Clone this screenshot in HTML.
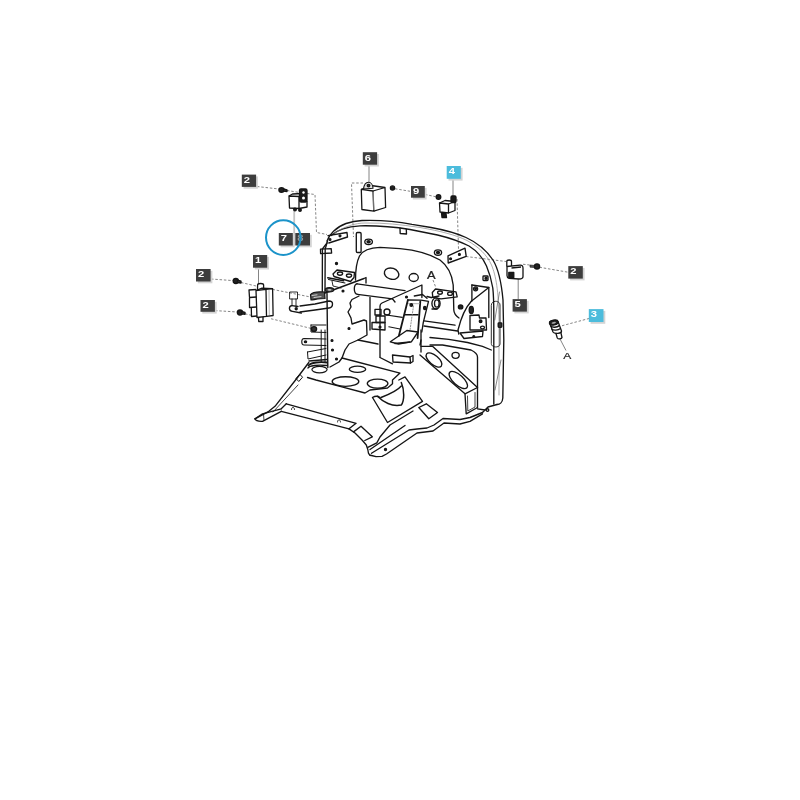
<!DOCTYPE html>
<html><head><meta charset="utf-8"><style>
html,body{margin:0;padding:0;background:#fff;}
body{width:800px;height:800px;overflow:hidden;position:relative;font-family:"Liberation Sans",sans-serif;}
svg{position:absolute;left:0;top:0;}
</style></head><body>
<div style="position:absolute;left:0;top:0;width:800px;height:800px;will-change:transform">
<svg width="800" height="800" viewBox="0 0 800 800">
<g fill="none" stroke="#666" stroke-width="0.8" stroke-dasharray="2.5,1.8">
<path d="M257,186.5 L279,189"/>
<path d="M287,190.5 L299.5,192.5"/>
<path d="M307,193.5 L315,194.5 L316.5,232.5 L327,234.5"/>
<path d="M211,279 L233,280.6"/>
<path d="M241,282.5 L256,286"/>
<path d="M272.5,289.4 L310,296.9"/>
<path d="M215,310.6 L237.5,312"/>
<path d="M245,313.75 L252.5,315.6"/>
<path d="M271,318.75 L312.5,328.75"/>
<path d="M363,183 L351.5,183 L353.5,237"/>
<path d="M395,188.75 L410,191.25"/>
<path d="M425,194.4 L436,196.8"/>
<path d="M457,199 L458.5,249"/>
<path d="M466,256.5 L506,261.5"/>
<path d="M523,264.25 L529.75,265"/>
<path d="M539.5,267.25 L568,272.2"/>
<path d="M562,325.75 L589,318.5"/>
<path d="M433,280 L436,288"/>
</g>
<g fill="none" stroke="#c4c4c4" stroke-width="1.8">
<path d="M294.2,210 L294.2,245.5"/>
</g>
<g fill="none" stroke="#777" stroke-width="0.9">
<path d="M258.5,268 L258.5,284"/>
<path d="M369,165 L369,182.5"/>
<path d="M453,179 L453,196"/>
<path d="M518.2,279 L518.2,299"/>
<path d="M559.75,338.5 L566,350.5"/>
</g>

<g fill="none" stroke="#151515" stroke-width="1.35" stroke-linejoin="round" stroke-linecap="round">
<!-- hoop -->
<path d="M327,241 C329,235 336,227 346,223.5 C352,221.5 358,220.7 362,220.5 C378,220 395,221 412,224.4 L431,227.5 C445,230 456,233 466,237.5 C478,243 487,251 493,260 C499,270 501.5,283 503,300 L503.8,340 L502.8,398 C502.5,402 500,404.5 497,404.5"/>
<path d="M331,235.5 C337,230 348,226.5 360,225.8 C375,225.5 395,227 410,229.5 L437.5,235 C450,238 460,241.5 469,246 C477,251 483,258 486.5,266 C489.5,273 491.5,280 492.8,288 C493.6,295 493.8,305 493.8,315 L493.8,404"/>
<path d="M334,233.5 C345,226 355,223.2 365,223 C385,222.8 400,224.5 420,227.5 C440,231 456,235 467,240.5 C479,247 487,255 491.5,265 C496,276 498.5,290 499,320 L499,395" stroke="#888" stroke-width="0.7"/>
<path d="M491.3,305 C491.3,300 500,300 500,305 L500,344 C500,348 491.3,348 491.3,344 Z" stroke-width="0.9"/>
<path d="M499.5,292 L494.8,320" stroke="#555" stroke-width="0.7"/>
<path d="M501,360 L495,390" stroke="#555" stroke-width="0.7"/>
<path d="M400,228.3 L400.2,233.5 L406.5,234 L406.3,229.3"/>
<rect x="498.2" y="322.8" width="3.6" height="4.5" rx="0.8" fill="#333"/>
<!-- upper-left bracket plate -->
<path d="M328,235.6 L347,232.5 L347.5,237 L328.8,243"/>
<circle cx="330" cy="239.5" r="0.9" fill="#222"/><circle cx="340" cy="235.8" r="0.9" fill="#222"/>
<!-- pillar -->
<path d="M327.5,241 L325.2,249 L325,292"/>
<path d="M327,243 L322.4,249 L322.3,292"/>
<path d="M320.5,249.2 L331.2,248.6 L331.6,253 L320.6,253.6 Z"/>
<path d="M321.2,330 L321.2,362 M325,330 L325,362" stroke-width="1"/>
<!-- small post -->
<rect x="356.3" y="232.5" width="4.8" height="20" rx="1.2"/>
<!-- nuts -->
<ellipse cx="368.6" cy="241.8" rx="3.8" ry="2.7"/><ellipse cx="368.6" cy="241.8" rx="1.6" ry="1.1" fill="#222"/>
<ellipse cx="438" cy="252.6" rx="3.6" ry="2.7"/><ellipse cx="438" cy="252.6" rx="1.5" ry="1.1" fill="#222"/>
<circle cx="336.5" cy="263.5" r="1" fill="#222"/>
<circle cx="343" cy="291" r="0.9" fill="#222"/>
<circle cx="349" cy="328.5" r="0.9" fill="#222"/>
<!-- back panel -->
<path d="M355.5,280 C355.5,270 356.5,262 359.5,256 C363,250 370,247.6 380,247.4 L400,248.6 C415,250 430,254 440,260 C448,266 452,274 453.2,285 L453.8,310 C454,314 456,316 459,318"/>
<ellipse cx="391.6" cy="273.7" rx="7.4" ry="5.5" transform="rotate(18 391.6 273.7)"/>
<ellipse cx="413.7" cy="277.5" rx="4.6" ry="4"/>
<!-- bracket right plate on panel -->
<path d="M448,255.8 L465,248.2 L466.2,256.3 L448.2,263 Z"/>
<circle cx="450.6" cy="258.8" r="0.9" fill="#222"/><circle cx="459.4" cy="254.4" r="0.9" fill="#222"/>
<!-- bracket 2 holes (left) -->
<path d="M333,274 L337,270 L354.5,272.5 L354,277.5 L350.5,281.5 L334,276.5 Z"/>
<ellipse cx="340" cy="273.6" rx="2.6" ry="1.6"/><ellipse cx="349" cy="275.6" rx="2.6" ry="1.6"/>
<path d="M327.8,277.8 L343.5,280.8" stroke-width="1.6"/>
<path d="M328.5,279.5 L345,283" stroke-width="1.1"/>
<path d="M332,281 L333,286 L341,288" stroke-width="0.9"/>
<!-- bracket 2 holes (right, near A) -->
<path d="M432.3,292.5 L435.5,289 L456,291.8 L457.2,296.8 L441,298.8 L432.8,297.3 Z"/>
<ellipse cx="440" cy="292.6" rx="2.4" ry="1.6"/><ellipse cx="450" cy="293.8" rx="2.4" ry="1.6"/>
<ellipse cx="436" cy="303.5" rx="4.1" ry="5.6"/><ellipse cx="436.8" cy="303.5" rx="2.3" ry="3.6"/>
<path d="M431.5,297.5 L439,296 M432,309 L437,309"/>
<!-- tube -->
<path d="M357,283.8 L405,290.6"/>
<path d="M357.5,294.4 L392.5,298.8"/>
<path d="M357,283.8 C353.5,284.2 353.2,294 357.5,294.4"/>
<path d="M427,296.5 L431,297.5"/>
<!-- big vertical left plate -->
<path d="M325,293 L364,278.5 L366,277.5 L366,283"/>
<path d="M327,293.5 L327.8,367.5" stroke-width="1.4"/>
<path d="M359,296 L352,299.5 L350,303 L351,307 L348,312 L351,318 L352,324 L364,320 L366.5,321 L367,335 L358,340 L349,344 L345,350 L342,358 L339,362 L330,367"/>
<path d="M358,340 L378,344"/>
<circle cx="332" cy="340.5" r="0.9" fill="#222"/><circle cx="332.5" cy="350" r="0.9" fill="#222"/><circle cx="336.5" cy="359" r="0.9" fill="#222"/>
<path d="M370,297.5 L370,330"/>
<!-- handle bar -->
<path d="M300,306 L315,304 L329,301 C332,301 332.5,302.5 332.5,304 C332.5,306.5 331,307.8 329,308 L315,310 L300,312"/>
<path d="M291.9,305.6 C288.5,306 288.5,311 292.5,311.3 L301.3,313"/>
<path d="M291.9,305.6 L298,306.5"/>
<circle cx="296.2" cy="308.7" r="1" fill="#222"/>
<path d="M290,292 L297.5,292 L297.5,299 L290,299 Z" stroke-width="0.9"/>
<path d="M292,299 L292,305 M296,299 L296,306" stroke-width="0.9"/>
<!-- dark hinge area top of plate -->
<path d="M310.5,294.5 C312,292.5 318,291.5 324.5,292 L325,298.5 C320,298.5 315,299.5 311,300 Z" fill="#555" stroke-width="1.2"/>
<path d="M312,295.5 L317,294.8 M314,297.5 L321,296.6" stroke="#ddd" stroke-width="0.9"/>
<ellipse cx="329.5" cy="289.8" rx="4.3" ry="2.2" fill="#444" stroke-width="1.1"/>
<ellipse cx="329.5" cy="289.8" rx="2" ry="0.9" fill="#ccc" stroke="none"/>
<!-- tabs left -->
<path d="M311,325 L326,325 M311,325 L311,332 L326,332.5" stroke-width="1"/>
<path d="M326,339 L304,338.5 C301,338.5 301,345 304,345 L326,345.5" stroke-width="1.1"/>
<path d="M307.5,352 L326,348.5 M307.5,352 L308,359 L326,355" stroke-width="1"/>
<ellipse cx="305.5" cy="341.8" rx="1.1" ry="0.9" fill="#222"/>
<ellipse cx="314" cy="329" rx="2.6" ry="2.4" fill="#333"/>
<!-- round mount -->
<ellipse cx="319.5" cy="369.6" rx="7.6" ry="3.2" stroke-width="1.2"/>
<path d="M308.5,365.5 C311,362.5 320,361.5 327,362.5" stroke-width="1.8"/>
<path d="M308,368 C309,365.5 318,364.5 327,365.5" stroke-width="1.4"/>
<path d="M309,361 L327,359.5" stroke-width="1.3"/>
<!-- diagonal pedal plate -->
<path d="M380,357 L380,306 C380,304.5 381,303.5 382,303 L421.9,285 L421.9,297.5"/>
<path d="M380,357.5 L392.5,363.8"/>
<path d="M421,330 L421,352"/>
<!-- pedal channel -->
<path d="M407.9,300 L398.9,335.8" stroke-width="1.8"/>
<path d="M420.3,301.2 L417.6,338" stroke-width="1.8"/>
<path d="M407.9,300 L421,300.1 L428.5,301.3 L423.3,322.3 L421.8,332"/>
<path d="M404.5,314.8 L418,314.8" stroke-width="1.4"/>
<path d="M408.5,303.6 L419.5,303.7" stroke="#999" stroke-width="0.8"/>
<path d="M390.3,341.8 L406.8,330.5 L418,332 L411.3,341.8 L398.5,344 Z"/>
<path d="M395,343.5 L410,342" stroke-width="1.6"/>
<path d="M413.5,306 L410,330" stroke="#777" stroke-width="0.8" stroke-dasharray="1.3,1.5"/>
<circle cx="411.3" cy="305" r="1.3" fill="#222"/><ellipse cx="424.8" cy="308" rx="1.2" ry="1.7" fill="#222"/>
<path d="M414.3,296 L422.5,294.5 L427,298.3"/>
<circle cx="406.5" cy="297" r="0.9" fill="#222"/>
<!-- small brackets middle -->
<path d="M375,309.4 L381,309.4 L381,315 L375,315 Z"/>
<circle cx="387" cy="312" r="3"/>
<path d="M376,316 L385,316 L385,322.5 L376,322.5 Z"/>
<path d="M372,322.5 L385,322.5 L385,330 L372,329 Z"/>
<circle cx="380" cy="327" r="0.9" fill="#222"/>
<path d="M385,314.8 L402.3,317.4 M388.8,326.8 L400,329" stroke-width="1.1"/>
<!-- right tube / cylinder -->
<path d="M424,320.8 L455,325.2 M424,326 L457.5,331" />
<path d="M392.5,298.8 L395,302"/>
<!-- tab right of pedal plate -->
<path d="M392.5,355 L410,357 L410.5,363 L393,362 Z"/>
<path d="M410,357 L413,355.5 L413,361.5 L410.5,363"/>
<!-- right gusset -->
<path d="M471.9,285 L488.8,287.5 L488.8,317.5"/>
<path d="M488.8,287.5 L471.3,301.3"/>
<path d="M471.9,285 L471.9,301"/>
<path d="M471.3,301.3 C466,307 461,318 458,330 L458.8,334"/>
<circle cx="475.6" cy="288.8" r="2"/><circle cx="475.6" cy="288.8" r="0.8" fill="#222"/>
<ellipse cx="460.6" cy="306.9" rx="2.2" ry="1.9" fill="#222"/>
<ellipse cx="471.3" cy="310" rx="2.1" ry="3.6" fill="#222"/>
<path d="M470,330 L470,315.5 L479,315 L479.5,318 L486,318 L486.5,330 Z"/>
<circle cx="480.6" cy="321.3" r="1.3" fill="#222"/><ellipse cx="482.5" cy="327.5" rx="2" ry="1.4"/>
<path d="M460,333 L483,331 L482.5,336.5 L464,338.5 Z"/>
<circle cx="473.8" cy="336.5" r="0.9" fill="#222"/>
<rect x="483" y="276" width="5" height="4.5" rx="0.8"/><circle cx="486" cy="278.3" r="1" fill="#222"/>
<!-- floor upper -->
<path d="M430,337.5 L448.8,339.4 L467.5,342.5 L482.5,346.3 L491.3,350"/>
<path d="M430,345 L442.5,345 L471,350 C475,352 477.5,354 477.5,357 L477.5,407.5"/>
<ellipse cx="455.6" cy="355.3" rx="3.6" ry="3"/>
<!-- side channel with slots -->
<path d="M421,346.3 L432.5,346.3 L477.5,387.5"/>
<path d="M420,355 L465,393.8"/>
<path d="M465,393.8 L477.5,387.5 M465,393.8 L466.2,413.8 L477.5,407.5"/>
<path d="M467.5,396 L467.8,411 L475,407 L475,392.5" stroke-width="0.8"/>
<ellipse cx="434" cy="360" rx="9.6" ry="4.6" transform="rotate(40 434 360)"/>
<ellipse cx="458.3" cy="380" rx="11.5" ry="5" transform="rotate(42 458.3 380)"/>
<path d="M420,345 L421,340"/>
<!-- raised floor plate with holes -->
<path d="M342,358 L400,373.1 L392.5,380 L392.5,383.8 L387.5,388 L370,390 L365,393 L340,386.3"/>
<path d="M340,386.3 L316,380 L307.5,377.5"/>
<path d="M307.5,377.5 L350,387.5" stroke-width="0"/>
<ellipse cx="357.5" cy="369.3" rx="8.2" ry="3.1"/>
<ellipse cx="345.5" cy="381.5" rx="13.3" ry="4.8"/>
<ellipse cx="377.6" cy="383.6" rx="10.3" ry="4.5"/>
<!-- pedal slot plate -->
<path d="M372.5,397.5 L387.5,422.5 L422.5,401.3 L405,376.9 L398.8,380"/>
<path d="M372.5,397.5 C375,396 378,396 380,397.5"/>
<path d="M377.5,396.3 C383,402 392,407 401.3,405 C404.5,401 404.5,390 401.3,382.5" stroke-width="1.5"/>
<path d="M381,397.5 C390,394 398,390 401.3,386"/>
<path d="M418.8,407.5 L426.3,403.8 L437.5,412.5 L428.8,418.8 Z"/>
<!-- floor side & step bar -->
<path d="M308.8,362.5 L297.5,377.5 L275,406.3 L268.8,411.3 L255,418.8"/>
<path d="M299.5,374.5 L296,378.5 L298.8,381.5 L302.3,377.5 Z" stroke-width="1"/>
<path d="M298,385 L273,412" stroke-width="0.8"/>
<path d="M255,418.8 C255.5,420.5 258,421.5 262.5,421.3 L281.3,411.3"/>
<path d="M255,418.8 L262.5,413.8 L281.3,408.8"/>
<path d="M263.5,414 L264,420.5" stroke-width="0.8"/>
<path d="M281.5,408.5 L286.3,403.8"/>
<path d="M291.5,409.5 C291.5,406.5 294.5,406.5 294.5,409.5 M337.5,422 C337.5,419 340.5,419 340.5,422" stroke-width="0.9"/>
<path d="M286.3,403.8 L356.1,423.3 L349,428.7"/>
<path d="M281.3,411.3 L349,428.9"/>
<path d="M349,428.9 L355,433 L362.5,440.5 L366.3,445 L367.8,449.5 L368.5,453.3 C369,455 370,455.5 371.5,455.5 L376,456.6 L382,456.3 L386.5,454 L417,433 L433,431 L444,423 L460,424 L470,421.3 L482.5,413.8"/>
<path d="M371.5,453.3 L380,448 L409,430 L417,429 L427,428 L434,425 L443,418.5 L460,419.5 L470,417.5 L482.5,412.5 L485,410 L477.5,408.8"/>
<path d="M370,449.5 L405,425.5"/>
<path d="M367.8,447.3 L376.8,442.8 L380,437 L390,425 L413,411"/>
<path d="M353.5,431.9 L361,426.3 L372.3,436.8 L364.8,440.5"/>
<circle cx="385.5" cy="449.5" r="1" fill="#222"/>
<path d="M485,410 L488,407 L497,404.5"/>
<circle cx="487.5" cy="410" r="1.3"/>
</g>
<text transform="translate(427,278.6) scale(1.24,1)" font-family="Liberation Sans" font-size="10.4" fill="#222" stroke="#222" stroke-width="0.25">A</text>
<text transform="translate(563.2,358.6) scale(1.28,1)" font-family="Liberation Sans" font-size="9.4" fill="#222" stroke="#222" stroke-width="0.2">A</text>

<g fill="none" stroke="#151515" stroke-width="1.3" stroke-linejoin="round">
<!-- screws -->
<ellipse cx="281.5" cy="190" rx="2.6" ry="2.3" fill="#222"/><path d="M283.5,189 L287,189.8 L287,191.5 L283.5,191.2Z" fill="#333"/>
<ellipse cx="235.8" cy="281" rx="2.6" ry="2.5" fill="#222"/><path d="M237.5,280 L241,281 L241,283 L237.5,282.5Z" fill="#333"/>
<ellipse cx="240" cy="312.5" rx="2.6" ry="2.5" fill="#222"/><path d="M241.5,311.5 L245,312.3 L245,314.3 L241.5,313.8Z" fill="#333"/>
<circle cx="392.5" cy="188" r="2.1" fill="#222"/>
<circle cx="438.5" cy="197" r="2.3" fill="#222"/>
<path d="M530,265 L535,265.5 L535,267.6 L530,267.2Z" fill="#555" stroke-width="0.6"/><circle cx="537" cy="266.4" r="2.6" fill="#222"/>
<!-- relay 7 -->
<path d="M289,196 L299,196.5 L299,208.5 L289.5,208 Z"/>
<path d="M289,196 L292.5,194 L303,193.5 L299,196.5"/>
<path d="M299,208.5 L307,207 L307,201"/>
<rect x="299.5" y="189" width="7.5" height="13" rx="1.5" fill="#1a1a1a"/>
<circle cx="303.5" cy="192.5" r="1.2" fill="#fff" stroke="none"/><circle cx="303.5" cy="198" r="1.5" fill="#fff" stroke="none"/>
<circle cx="295" cy="209.5" r="1.3" fill="#222"/><circle cx="300" cy="210" r="1.3" fill="#222"/>
<!-- relay 6 -->
<path d="M361.3,189.4 L373,191 L373.8,211.2 L361.9,209.5 Z"/>
<path d="M373,191 L385,187.5 L385.6,207.5 L373.8,211.2"/>
<path d="M361.3,189.4 L371,185.5 L385,187.5"/>
<path d="M363.5,189 C364,185 366,182.3 368.5,182.3 C371,182.3 372.8,185 373,188.2 Z" fill="#ddd" stroke-width="1.1"/>
<circle cx="368.5" cy="185.6" r="1.3" fill="#333"/>
<path d="M373.4,192 L373.6,210" stroke="#999" stroke-width="0.7"/>
<!-- relay 4 -->
<path d="M439.5,203 L448.5,204 L448.5,213 L440,212 Z"/>
<path d="M448.5,204 L455,201.5 L455,210.5 L448.5,213"/>
<path d="M439.5,203 L445,200.5 L455,201.5"/>
<rect x="451" y="196" width="5" height="6.5" rx="1.2" fill="#1a1a1a"/>
<path d="M441.5,213 L446,213.5 L446.5,217.5 L442,217.5Z" fill="#1a1a1a"/>
<!-- relay 5 -->
<path d="M506.8,266.5 L506.8,261.5 C506.8,259.5 511.5,259.5 511.5,261.5 L511.5,266"/>
<path d="M507,266.5 L520,265.2 C522,265 523,266 523,268 L523,276.5 C523,278 521,279 519,279 L509,278.3 C507.5,278 507,277 507,275.5 Z"/>
<path d="M511.5,268 L521,267"/>
<rect x="508.8" y="272.5" width="5" height="5" fill="#1a1a1a"/>
<!-- module 1 -->
<path d="M256,290.5 L266,289.4 L266.5,316.4 L257,317.5 Z"/>
<path d="M266,289.4 L272.6,288.6 L273.1,315.5 L266.5,316.4"/>
<path d="M256,290.5 L262,288.2 L272.6,288.6"/>
<path d="M257.5,290 L257.6,285 C257.6,283 263.6,283 263.6,285 L263.6,289"/>
<path d="M256.5,297 L249.5,297.5 L249,290 L256,289.5"/>
<path d="M256.5,307 L249.5,307.5 L249.5,298"/>
<path d="M257,316 L251.5,316.5 L251.3,308"/>
<path d="M258.5,317.6 L258.7,321.5 L263,321.5 L263,317"/>
<path d="M269,290 L269.3,315" stroke="#999" stroke-width="0.7"/>
<!-- switch 3 -->
<path d="M549.6,322.5 C549.5,320.5 556,319.8 558,321.5 L561.5,331 C561.8,333.5 554.5,334.5 553,332 Z" fill="#fff" stroke-width="1.3"/>
<ellipse cx="553.8" cy="322.6" rx="4.4" ry="2.4" transform="rotate(-12 553.8 322.6)" fill="#222"/>
<ellipse cx="553.8" cy="322.8" rx="2.2" ry="0.9" transform="rotate(-12 553.8 322.8)" fill="#aaa" stroke="none"/>
<path d="M550.5,326 C552.5,327.8 557,327.5 559.3,325.6" stroke-width="1.5"/>
<path d="M551.5,329 C553.5,330.8 558,330.5 560.5,328.6" stroke-width="1.3"/>
<path d="M555.8,333 L557.3,338 C558.3,339.5 561.5,339 562,337.5 L560.8,332.2"/>
</g>

<rect x="243.6" y="176.4" width="14.3" height="12.3" fill="#d4d4d4"/>
<rect x="280.6" y="234.8" width="14.0" height="12.5" fill="#d4d4d4"/>
<rect x="297.1" y="234.8" width="14.7" height="12.5" fill="#d4d4d4"/>
<rect x="254.8" y="256.8" width="14.2" height="12.7" fill="#d4d4d4"/>
<rect x="197.8" y="270.8" width="14.6" height="12.5" fill="#d4d4d4"/>
<rect x="202.3" y="301.8" width="14.4" height="11.8" fill="#d4d4d4"/>
<rect x="364.6" y="154.0" width="14.3" height="12.5" fill="#d4d4d4"/>
<rect x="412.8" y="187.8" width="13.8" height="11.7" fill="#d4d4d4"/>
<rect x="448.5" y="167.8" width="14.1" height="12.8" fill="#d4d4d4"/>
<rect x="570.1" y="267.9" width="14.5" height="12.5" fill="#d4d4d4"/>
<rect x="514.4" y="300.9" width="14.3" height="12.5" fill="#d4d4d4"/>
<rect x="590.6" y="310.9" width="14.7" height="12.9" fill="#d4d4d4"/>
<rect x="241.8" y="174.6" width="14.3" height="12.3" fill="#3d3d3d"/>
<text transform="translate(243.8,182.9) scale(1.22,1)" font-family="Liberation Sans" font-weight="bold" font-size="9.2" fill="#fff">2</text>
<rect x="278.8" y="233.0" width="14.0" height="12.5" fill="#3d3d3d"/>
<text transform="translate(280.8,241.3) scale(1.22,1)" font-family="Liberation Sans" font-weight="bold" font-size="9.2" fill="#fff">7</text>
<rect x="295.3" y="233.0" width="14.7" height="12.5" fill="#3d3d3d"/>
<text transform="translate(297.3,241.3) scale(1.22,1)" font-family="Liberation Sans" font-weight="bold" font-size="9.2" fill="#9a9a9a">8</text>
<rect x="253.0" y="255.0" width="14.2" height="12.7" fill="#3d3d3d"/>
<text transform="translate(255.0,263.3) scale(1.22,1)" font-family="Liberation Sans" font-weight="bold" font-size="9.2" fill="#fff">1</text>
<rect x="196.0" y="269.0" width="14.6" height="12.5" fill="#3d3d3d"/>
<text transform="translate(198.0,277.3) scale(1.22,1)" font-family="Liberation Sans" font-weight="bold" font-size="9.2" fill="#fff">2</text>
<rect x="200.5" y="300.0" width="14.4" height="11.8" fill="#3d3d3d"/>
<text transform="translate(202.5,308.3) scale(1.22,1)" font-family="Liberation Sans" font-weight="bold" font-size="9.2" fill="#fff">2</text>
<rect x="362.8" y="152.2" width="14.3" height="12.5" fill="#3d3d3d"/>
<text transform="translate(364.8,160.5) scale(1.22,1)" font-family="Liberation Sans" font-weight="bold" font-size="9.2" fill="#fff">6</text>
<rect x="411.0" y="186.0" width="13.8" height="11.7" fill="#3d3d3d"/>
<text transform="translate(413.0,194.3) scale(1.22,1)" font-family="Liberation Sans" font-weight="bold" font-size="9.2" fill="#fff">9</text>
<rect x="446.7" y="166.0" width="14.1" height="12.8" fill="#4cbcdc"/>
<text transform="translate(448.7,174.3) scale(1.22,1)" font-family="Liberation Sans" font-weight="bold" font-size="9.2" fill="#fff">4</text>
<rect x="568.3" y="266.1" width="14.5" height="12.5" fill="#3d3d3d"/>
<text transform="translate(570.3,274.4) scale(1.22,1)" font-family="Liberation Sans" font-weight="bold" font-size="9.2" fill="#fff">2</text>
<rect x="512.6" y="299.1" width="14.3" height="12.5" fill="#3d3d3d"/>
<text transform="translate(514.6,307.4) scale(1.22,1)" font-family="Liberation Sans" font-weight="bold" font-size="9.2" fill="#fff">5</text>
<rect x="588.8" y="309.1" width="14.7" height="12.9" fill="#4cbcdc"/>
<text transform="translate(590.8,317.4) scale(1.22,1)" font-family="Liberation Sans" font-weight="bold" font-size="9.2" fill="#fff">3</text>
<circle cx="283.3" cy="237.6" r="17.3" fill="none" stroke="#1b93c9" stroke-width="2"/>
</svg>
</div>
</body></html>
